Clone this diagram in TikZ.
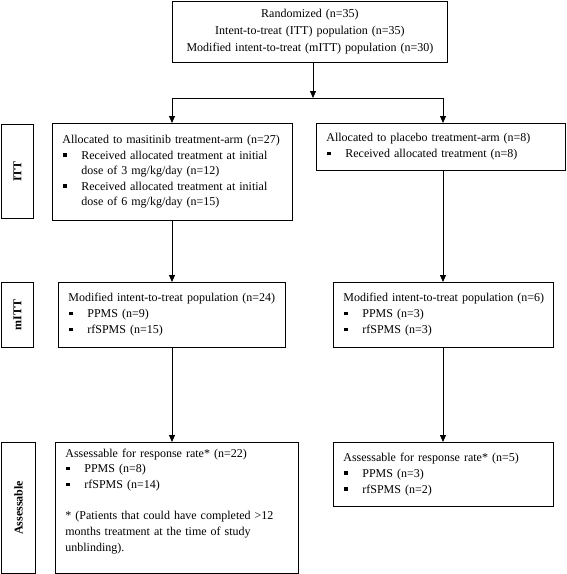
\documentclass[tikz,border=0pt]{standalone}
\usepackage{fontspec}
\setmainfont{Liberation Serif}
\usepackage{graphicx}
\usetikzlibrary{arrows.meta}
\newcommand\bul{\makebox[19pt][l]{\hspace{1pt}\rule[2.5pt]{3.5pt}{3.5pt}}}
\newcommand\ind{\hspace*{19pt}}
\begin{document}
\begin{tikzpicture}[x=1pt,y=-1pt,
 box/.style={draw, line width=0.8pt, anchor=north west, inner xsep=10pt, inner ysep=0pt, align=left, font=\fontsize{12}{16}\selectfont},
 lab/.style={draw, line width=0.8pt, anchor=north west, inner sep=0pt, font=\fontsize{12}{14}\selectfont\bfseries},
 arr/.style={line width=0.8pt, -{Triangle[width=6pt,length=7pt]}},
 ln/.style={line width=0.8pt}]
\useasboundingbox (0,0) rectangle (567,574);
% main boxes
\node[box, align=center, text width=255pt, minimum height=61pt, font=\fontsize{12}{17}\selectfont] (top) at (172,1)
  {Randomized (n=35)\\Intent-to-treat (ITT) population (n=35)\\Modified intent-to-treat (mITT) population (n=30)};
\node[box, text width=220pt, minimum height=97pt, font=\fontsize{12}{15.5}\selectfont] (li) at (52,123)
  {Allocated to masitinib treatment-arm (n=27)\\
   \bul Received allocated treatment at initial\\
   \ind dose of 3 mg/kg/day (n=12)\\
   \bul Received allocated treatment at initial\\
   \ind dose of 6 mg/kg/day (n=15)};
\node[box, text width=229pt, minimum height=47pt] (ri) at (316,123)
  {Allocated to placebo treatment-arm (n=8)\\
   \bul Received allocated treatment (n=8)};
\node[box, text width=207pt, minimum height=65pt] (lm) at (58,282)
  {Modified intent-to-treat population (n=24)\\
   \bul PPMS (n=9)\\
   \bul rfSPMS (n=15)};
\node[box, text width=200pt, minimum height=65pt] (rm) at (333,282)
  {\mbox{Modified intent-to-treat population (n=6)}\\
   \bul PPMS (n=3)\\
   \bul rfSPMS (n=3)};
\node[box, text width=223pt, minimum height=131pt, font=\fontsize{12}{15.7}\selectfont] (la) at (55,442)
  {Assessable for response rate* (n=22)\\
   \bul PPMS (n=8)\\
   \bul rfSPMS (n=14)\\[15.7pt]
   * (Patients that could have completed >12\\
   months treatment at the time of study\\
   unblinding).\\
   \mbox{}};
\node[box, text width=200pt, minimum height=64pt] (ra) at (333,442)
  {Assessable for response rate* (n=5)\\
   \bul PPMS (n=3)\\
   \bul rfSPMS (n=2)};
% side labels
\node[lab, minimum width=32pt, minimum height=94pt] (litt) at (1,124) {\rotatebox{90}{ITT}};
\node[lab, minimum width=32pt, minimum height=65pt] (lmitt) at (1,282) {\rotatebox{90}{mITT}};
\node[lab, minimum width=34pt, minimum height=131pt] (lass) at (1,442) {\rotatebox{90}{Assessable}};
% connectors
\coordinate (J) at (313,98);
\coordinate (L) at (172,98);
\coordinate (R) at (443,98);
\draw[arr] (top.south -| J) -- (J);
\draw[ln] (L) -- (R);
\draw[arr] (L) -- (L |- li.north);
\draw[arr] (R) -- (R |- ri.north);
\draw[arr] (L |- li.south) -- (L |- lm.north);
\draw[arr] (R |- ri.south) -- (R |- rm.north);
\draw[arr] (L |- lm.south) -- (L |- la.north);
\draw[arr] (R |- rm.south) -- (R |- ra.north);
\end{tikzpicture}
\end{document}
